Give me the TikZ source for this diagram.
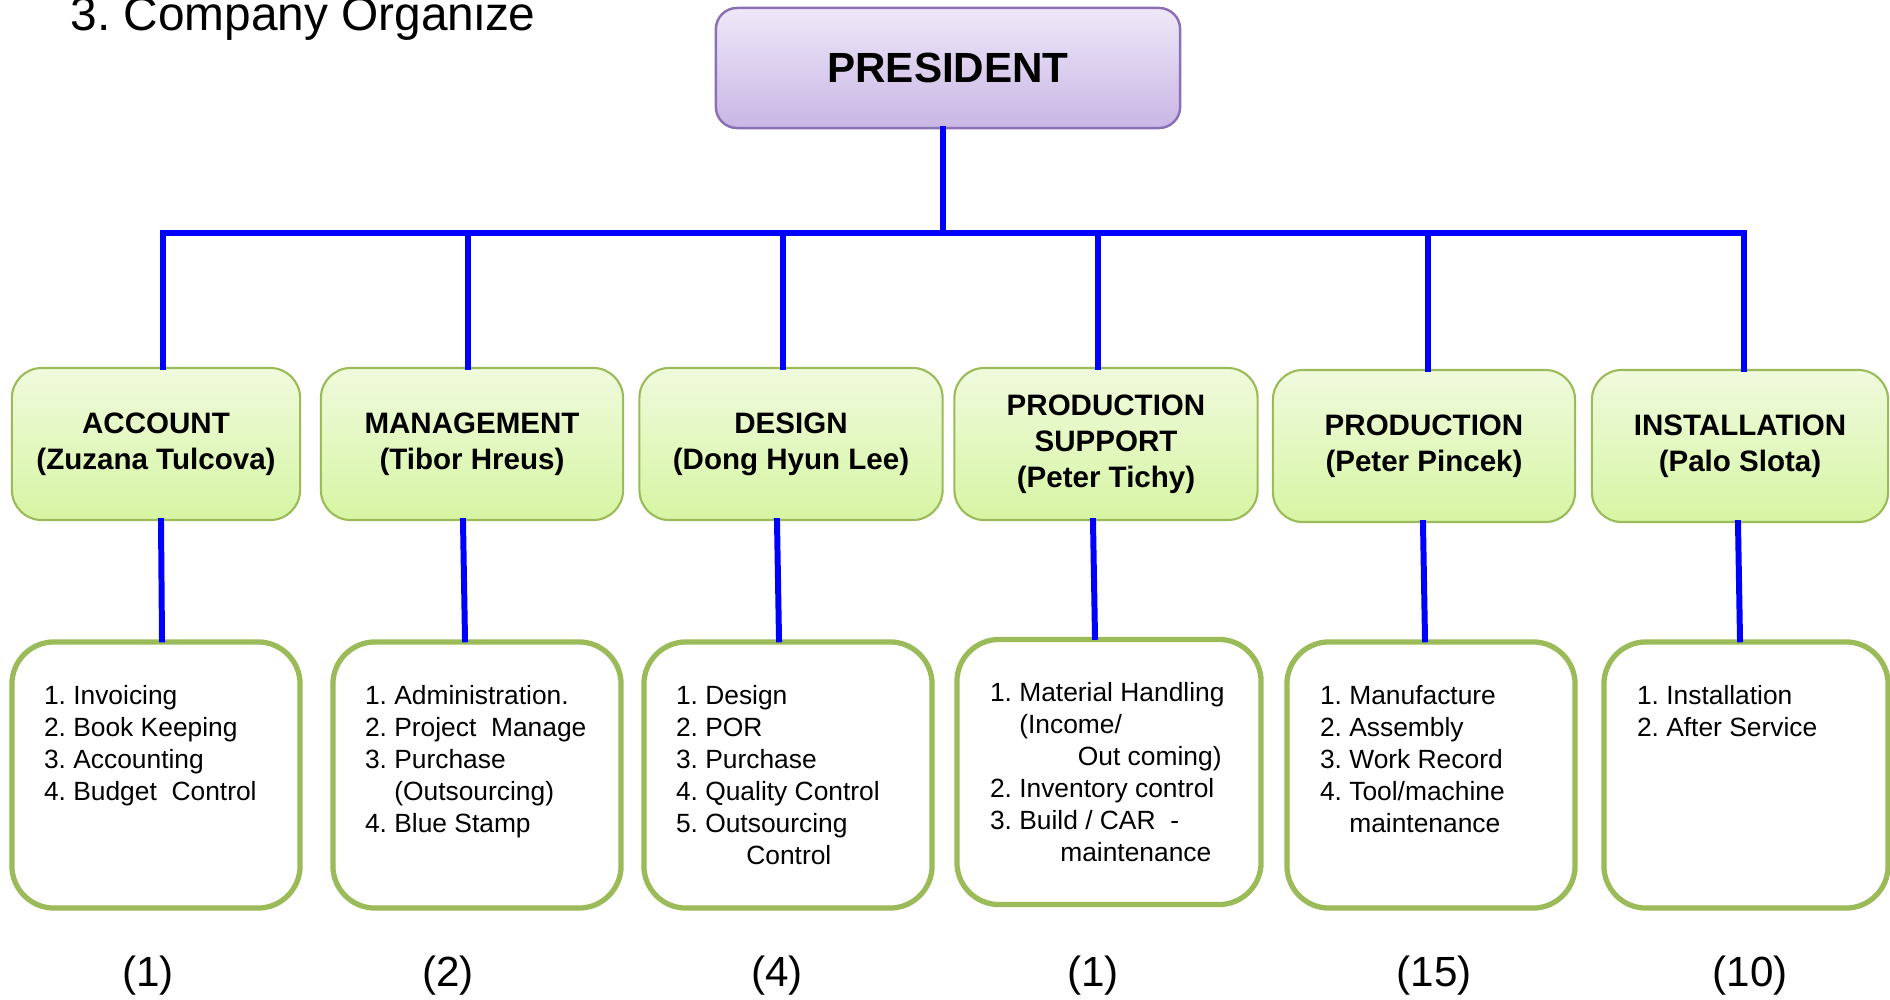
\documentclass[tikz,border=0pt]{standalone}
\usepackage{fontspec}
\setmainfont{Liberation Sans}
\usetikzlibrary{positioning}
\frenchspacing

\definecolor{hdrline}{HTML}{9BBB59}
\definecolor{hdrtop}{HTML}{F0FADD}
\definecolor{hdrbot}{HTML}{D6F5A3}
\definecolor{prestop}{HTML}{EEE8F8}
\definecolor{presbot}{HTML}{C9B6E5}
\definecolor{presline}{HTML}{8C70B5}

\tikzset{
  boss/.style={draw=presline, line width=0.7pt, rounded corners=6pt,
    top color=prestop, bottom color=presbot,
    minimum width=4.64cm, minimum height=1.2cm, inner sep=0pt,
    font=\fontsize{12}{14}\selectfont\bfseries},
  dept/.style={draw=hdrline, line width=0.6pt, rounded corners=8.5pt,
    top color=hdrtop, bottom color=hdrbot,
    minimum height=1.52cm, inner sep=0pt, align=center,
    font=\fontsize{8.4}{10.3}\selectfont\bfseries},
  duty/.style={draw=hdrline, line width=1.5pt, rounded corners=12pt, fill=white,
    minimum width=2.88cm, minimum height=2.66cm, inner sep=0pt},
  dutytext/.style={align=left, inner sep=0pt,
    font=\fontsize{7.5}{9.1}\selectfont},
  link/.style={blue, line width=1.7pt, line cap=rect},
  count/.style={font=\fontsize{12}{14}\selectfont}
}

\begin{document}
\begin{tikzpicture}[x=0.01cm, y=-0.01cm]
  \useasboundingbox (0,0) rectangle (1890,1000);

  \node[anchor=base west, font=\fontsize{13.6}{16}\selectfont] (title) at (58,31) {3. Company Organize};

  % top
  \node[boss] (pres) at (948,68) {PRESIDENT};

  % departments
  \node[dept, minimum width=2.88cm] (hdrA) at (156,444) {ACCOUNT\\(Zuzana Tulcova)};
  \node[dept, minimum width=3.02cm] (hdrB) at (472,444) {MANAGEMENT\\(Tibor Hreus)};
  \node[dept, minimum width=3.03cm] (hdrC) at (791,444) {DESIGN\\(Dong Hyun Lee)};
  \node[dept, minimum width=3.03cm] (hdrD) at (1106,444) {PRODUCTION\\SUPPORT\\(Peter Tichy)};
  \node[dept, minimum width=3.02cm] (hdrE) at (1424,446) {PRODUCTION\\(Peter Pincek)};
  \node[dept, minimum width=2.96cm] (hdrF) at (1740,446) {INSTALLATION\\(Palo Slota)};

  % duty boxes
  \node[duty] (dutyA) at (156,775) {};
  \node[duty] (dutyB) at (477,775) {};
  \node[duty] (dutyC) at (788,775) {};
  \node[duty, minimum width=3.04cm, minimum height=2.65cm] (dutyD) at (1109,772) {};
  \node[duty] (dutyE) at (1431,775) {};
  \node[duty, minimum width=2.84cm] (dutyF) at (1746,775) {};

  \node[dutytext, below right=0.45cm and 0.34cm of dutyA.north west] (listA)
    {1. Invoicing\\2. Book Keeping\\3. Accounting\\4. Budget\ \ Control};
  \node[dutytext, below right=0.45cm and 0.34cm of dutyB.north west] (listB)
    {1. Administration.\\2. Project\ \ Manage\\3. Purchase\\\phantom{3. }(Outsourcing)\\4. Blue Stamp};
  \node[dutytext, below right=0.45cm and 0.34cm of dutyC.north west] (listC)
    {1. Design\\2. POR\\3. Purchase\\4. Quality Control\\5. Outsourcing\\\hspace*{20pt}Control};
  \node[dutytext, below right=0.45cm and 0.35cm of dutyD.north west] (listD)
    {1. Material Handling\\\phantom{1. }(Income/\\\hspace*{25pt}Out coming)\\2. Inventory control\\3. Build / CAR\ \ -\\\hspace*{20pt}maintenance};
  \node[dutytext, below right=0.45cm and 0.35cm of dutyE.north west] (listE)
    {1. Manufacture\\2. Assembly\\3. Work Record\\4. Tool/machine\\\phantom{4. }maintenance};
  \node[dutytext, below right=0.45cm and 0.35cm of dutyF.north west] (listF)
    {1. Installation\\2. After Service};

  % connectors
  \coordinate (bus) at (943,233);
  \draw[link] (943,0 |- pres.south) -- (bus);
  \draw[link] (163,0 |- bus) -- (1744,0 |- bus);
  \foreach \d/\xt/\xu/\xl in {A/163/161/162, B/468/463/465, C/783/777/779,
                              D/1098/1093/1095, E/1428/1423/1425, F/1744/1738/1740} {
    \draw[link] (\xt,0 |- bus) -- (\xt,0 |- hdr\d.north);
    \draw[link] (\xu,0 |- hdr\d.south) -- (\xl,0 |- duty\d.north);
  }

  % head counts
  \foreach \x/\n [count=\k] in {148/1, 448/2, 777/4, 1093/1, 1434/15, 1750/10}
    \node[count] (cnt\k) at (\x,976) {(\n)};
\end{tikzpicture}
\end{document}
